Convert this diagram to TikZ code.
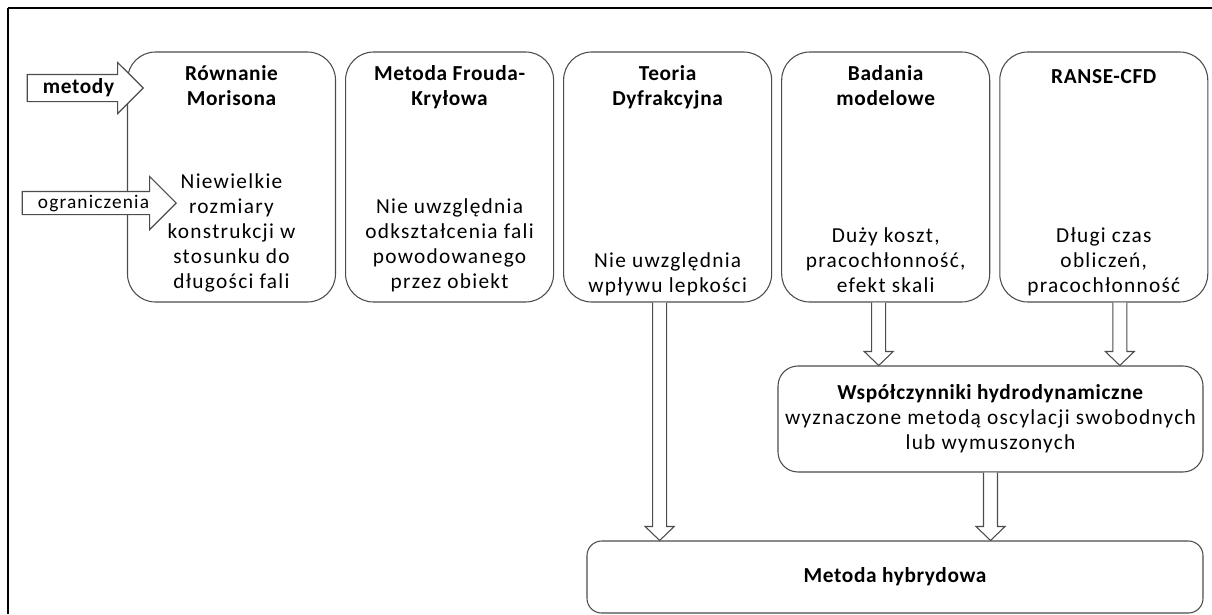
\documentclass[tikz,border=0pt]{standalone}
\usepackage{fontspec}
\setmainfont{Carlito}[LetterSpace=6, BoldFeatures={LetterSpace=3}]
\usetikzlibrary{positioning,calc,shapes.arrows}

\tikzset{
  txt/.style={font=\fontsize{16}{18.75}\selectfont, align=center, inner sep=0pt},
  coltitle/.style={txt, font=\fontsize{16}{18.75}\selectfont\bfseries, anchor=north,
    execute at begin node=\strut},
  colbody/.style={txt, anchor=south, execute at end node=\strut},
  colbox/.style={draw=black!70, line width=0.8pt, rounded corners=21pt,
    minimum width=156pt, minimum height=187.5pt, inner sep=0pt},
  resbox/.style={txt, draw=black!70, line width=0.8pt, rounded corners=15pt},
  labarrow/.style={single arrow, draw=black!70, fill=white, line width=0.8pt,
    anchor=tip, inner xsep=2pt, text height=11pt, text depth=3.5pt,
    font=\fontsize{16}{18.75}\selectfont},
  blockarr/.style={draw=black!70, fill=white, line width=0.8pt}
}

% strzalka blokowa w dol, od punktu #1 do poziomu #2
\newcommand{\blockdown}[2]{%
  \draw[blockarr] let \p1=#1, \p2=#2 in
    (\x1-5.25pt,\y1) -- (\x1-5.25pt,\y2+10.5pt) -- (\x1-10.9pt,\y2+10.5pt)
    -- (\x1,\y2) -- (\x1+10.9pt,\y2+10.5pt) -- (\x1+5.25pt,\y2+10.5pt)
    -- (\x1+5.25pt,\y1);
}

\begin{document}
\begin{tikzpicture}[x=0.75pt,y=-0.75pt]
\useasboundingbox (0,0) rectangle (1212,614);
% ramka
\draw[line width=0.8pt] (8,8) -- (1212,8);
\draw[line width=1.5pt] (8,8) -- (8,614);

% kolumny metod
\node[colbox] (morison) at (231.5,177) {};
\node[colbox, right=6.75pt of morison] (froude) {};
\node[colbox, right=6.75pt of froude] (dyfr) {};
\node[colbox, right=6.75pt of dyfr] (badania) {};
\node[colbox, right=6.75pt of badania] (ranse) {};

\node[coltitle, below=10.5pt of morison.north] (morisonT) {R\'ownanie\\Morisona};
\node[coltitle, below=10.5pt of froude.north] (froudeT) {Metoda Frouda-\\Kry\l{}owa};
\node[coltitle, below=10.5pt of dyfr.north] (dyfrT) {Teoria\\Dyfrakcyjna};
\node[coltitle, below=10.5pt of badania.north] (badaniaT) {Badania\\modelowe};
\node[coltitle, below=10.5pt of ranse.north] (ranseT) {RANSE-CFD};

\node[colbody, above=5pt of morison.south] (morisonB)
  {Niewielkie\\rozmiary\\konstrukcji w\\stosunku do\\d\l{}ugo\'sci fali};
\node[colbody, above=5pt of froude.south] (froudeB)
  {Nie uwzgl\k{e}dnia\\odkszta\l{}cenia fali\\powodowanego\\przez obiekt};
\node[colbody, above=2pt of dyfr.south] (dyfrB)
  {Nie uwzgl\k{e}dnia\\wp\l{}ywu lepko\'sci};
\node[colbody, above=2pt of badania.south] (badaniaB)
  {Du\.zy koszt,\\pracoch\l{}onno\'s\'c,\\efekt skali};
\node[colbody, above=2pt of ranse.south] (ranseB)
  {D\l{}ugi czas\\oblicze\'n,\\pracoch\l{}onno\'s\'c};

% opisy wierszy
\node[labarrow, font=\fontsize{16}{18.75}\selectfont\bfseries, inner ysep=2.5pt,
  single arrow head extend=9pt, minimum height=87pt] (metody) at (144,88) {metody};
\node[labarrow, font=\fontsize{14.5}{18.75}\selectfont, inner ysep=1pt,
  single arrow head extend=11.25pt, minimum height=115.5pt] (ogran) at (177,203) {ograniczenia};

% wyniki
\node[resbox, minimum width=318.75pt, minimum height=79.5pt] (wsp) at (990.5,419)
  {\textbf{Wsp\'o\l{}czynniki hydrodynamiczne}\\wyznaczone metod\k{a} oscylacji swobodnych\\lub wymuszonych};
\node[resbox, font=\fontsize{16}{18.75}\selectfont\bfseries, rounded corners=11pt,
  minimum width=462pt, minimum height=54pt] (hybryd) at (895,577) {Metoda hybrydowa};

% strzalki
\blockdown{($(dyfr.south)+(-8,0)$)}{(hybryd.north)}
\blockdown{($(badania.south)+(-7,0)$)}{(wsp.north)}
\blockdown{($(ranse.south)+(16,0)$)}{(wsp.north)}
\blockdown{(wsp.south)}{(hybryd.north)}
\end{tikzpicture}
\end{document}
